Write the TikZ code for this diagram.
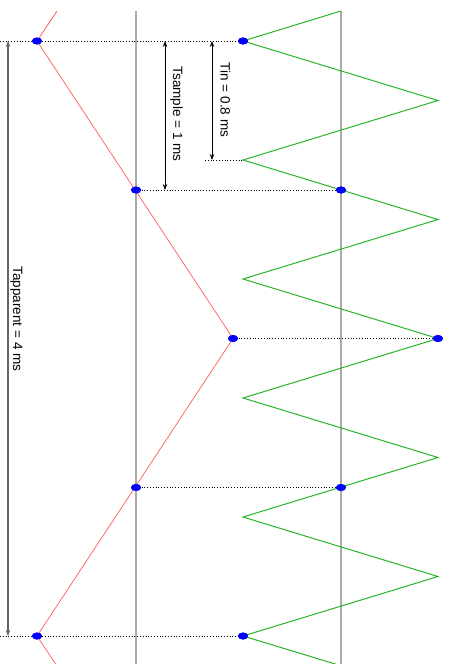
\documentclass[tikz,border=0pt]{standalone}
\usepackage{fontspec}
\setmainfont{Liberation Sans}
\usetikzlibrary{shapes.geometric,arrows.meta}
\definecolor{grn}{RGB}{40,180,40}
\definecolor{rd}{RGB}{255,90,90}
\definecolor{axisgray}{RGB}{170,170,170}
\definecolor{dimgray}{RGB}{100,100,100}
\tikzset{
  dot/.style={ellipse,fill=blue,draw=none,minimum width=10pt,minimum height=7pt,inner sep=0pt},
  guide/.style={black,dotted,line width=0.8pt},
  axisline/.style={axisgray,line width=1.4pt},
  sig/.style={grn,line width=1pt},
  alias/.style={rd,line width=0.7pt},
  dimarrow/.style={black,line width=0.9pt,{Stealth[length=6pt,width=4.5pt]}-{Stealth[length=6pt,width=4.5pt]}},
  dimlabel/.style={rotate=-90,font=\fontsize{13.5}{16}\selectfont,text height=9.8pt,text depth=2.8pt,inner sep=0pt}
}
\begin{document}
\begin{tikzpicture}[x=1pt,y=-1pt]
\useasboundingbox (0,0) rectangle (448,664);
\clip (0,0) rectangle (448,664);
% axes
\coordinate (a1t) at (136,11); \coordinate (a1b) at (136,664);
\coordinate (a2t) at (341,11); \coordinate (a2b) at (341,664);
\draw[axisline] (a1t) -- (a1b);
\draw[axisline] (a2t) -- (a2b);
% green input signal
\draw[sig] (341,11) -- (243,41) -- (438,100.5) -- (243,160) -- (438,219.5) -- (243,279)
  -- (438,338.5) -- (243,398) -- (438,457.5) -- (243,517) -- (438,576.5) -- (243,636) -- (341,665.75);
% red alias
\draw[alias] (57,11) -- (37,41) -- (233,338.5) -- (37,636) -- (57,666);
% dot nodes
\node[dot] (r1) at (37,41) {};
\node[dot] (g1) at (243,41) {};
\node[dot] (r2) at (136,190) {};
\node[dot] (g2) at (341,190) {};
\node[dot] (r3) at (233,338.5) {};
\node[dot] (g3) at (438,338.5) {};
\node[dot] (r4) at (136,487.5) {};
\node[dot] (g4) at (341,487.5) {};
\node[dot] (r5) at (37,636) {};
\node[dot] (g5) at (243,636) {};
\coordinate (l1) at (0,41);
\coordinate (l5) at (0,636);
\coordinate (tinL) at (205,160);
\coordinate (tinR) at (243,160);
% guides
\draw[guide] (l1) -- (g1.center);
\draw[guide] (r2.center) -- (g2.center);
\draw[guide] (tinL) -- (tinR);
\draw[guide] (r3.center) -- (g3.center);
\draw[guide] (r4.center) -- (g4.center);
\draw[guide] (l5) -- (g5.center);
% redraw dots on top
\foreach \n in {r1,g1,r2,g2,r3,g3,r4,g4,r5,g5} \fill[blue] (\n) ellipse (5pt and 3.5pt);
% dimension arrows
\coordinate (taT) at (8,41); \coordinate (taB) at (8,636);
\coordinate (tsT) at (165,41); \coordinate (tsB) at (165,190);
\coordinate (tiT) at (212,41); \coordinate (tiB) at (212,160);
\draw[dimarrow,dimgray,line width=1.3pt] (taT) -- (taB);
\draw[dimarrow] (tsT) -- (tsB);
\draw[dimarrow] (tiT) -- (tiB);
\node[dimlabel] (tal) at (16.5,319) {Tapparent = 4 ms};
\node[dimlabel] (tsl) at (176.5,114) {Tsample = 1 ms};
\node[dimlabel] (til) at (224,100) {Tin = 0.8 ms};
\end{tikzpicture}
\end{document}
